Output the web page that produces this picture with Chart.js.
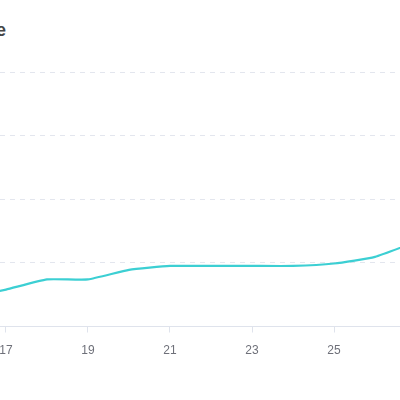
<!DOCTYPE html>
<html>
<head>
<meta charset="utf-8">
<script src="https://cdn.jsdelivr.net/npm/chart.js@4.4.1/dist/chart.umd.min.js"></script>
<style>
  html, body { margin: 0; padding: 0; background: #fff; overflow: hidden; }
  #wrap { position: relative; width: 400px; height: 400px; }
  #title { position: absolute; right: 394px; top: 20px; font: bold 18px sans-serif; color: #464646; white-space: nowrap; }
  canvas { position: absolute; left: 0; top: 0; }
</style>
</head>
<body>
<div id="wrap">
  <div id="title">Price</div>
  <canvas id="c" width="400" height="400"></canvas>
</div>
<script>
const days = [16, 17, 18, 19, 20, 21, 22, 23, 24, 25, 26, 27];
const values = [22, 29, 37, 37, 44.5, 47.6, 47.6, 47.6, 47.6, 49.5, 54.7, 66.5];
const xTickLabels = [17, 19, 21, 23, 25];
const yGridValues = [0, 50, 100, 150, 200];

const points = days.map((d, i) => ({ x: d, y: values[i] }));

new Chart(document.getElementById('c'), {
  type: 'line',
  data: {
    datasets: [{
      data: points,
      borderColor: '#3ccfd3',
      borderWidth: 2.2,
      pointRadius: 0,
      fill: false,
      tension: 0.15
    }]
  },
  options: {
    responsive: false,
    animation: false,
    layout: { autoPadding: false, padding: { top: 72, left: 0, right: 0, bottom: 0 } },
    plugins: { legend: { display: false }, tooltip: { enabled: false }, title: { display: false } },
    scales: {
      x: {
        type: 'linear',
        min: 17 - 6 / 41,
        max: 17 + 394 / 41,
        afterBuildTicks: (s) => { s.ticks = xTickLabels.map(v => ({ value: v })); },
        afterFit: (s) => { s.height = 73.5; s.paddingLeft = 0; s.paddingRight = 0; },
        grid: { drawOnChartArea: false, drawTicks: true, tickLength: 6, color: '#dfe3ec' },
        border: { display: true, color: '#dfe3ec', width: 1 },
        ticks: { color: '#6e7079', font: { size: 12, family: 'sans-serif' }, padding: 11, maxRotation: 0, autoSkip: false,
          callback: (v) => String(v) }
      },
      y: {
        min: 0,
        max: 200,
        afterBuildTicks: (s) => { s.ticks = yGridValues.map(v => ({ value: v })); },
        afterFit: (s) => { s.width = 0; s.paddingTop = 0; s.paddingBottom = 0; },
        ticks: { display: false },
        border: { display: false, dash: [5, 5] },
        grid: { color: '#e3e6ee', drawTicks: false, lineWidth: 1 }
      }
    }
  }
});
</script>
</body>
</html>
